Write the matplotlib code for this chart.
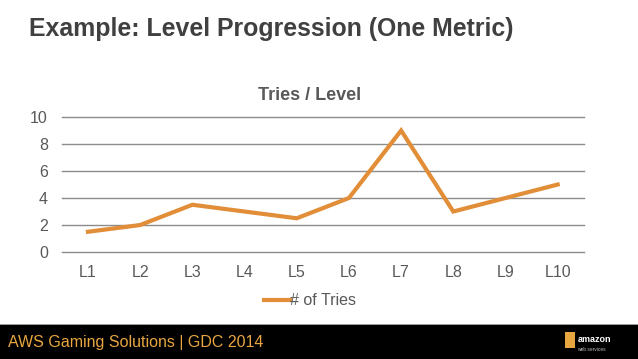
import matplotlib.pyplot as plt
from matplotlib.patches import Rectangle

plt.rcParams['font.family'] = ['Liberation Sans', 'DejaVu Sans']

# chart data
levels = ['L1', 'L2', 'L3', 'L4', 'L5', 'L6', 'L7', 'L8', 'L9', 'L10']
tries = [1.5, 2, 3.5, 3, 2.5, 4, 9, 3, 4, 5]
yticks = [0, 2, 4, 6, 8, 10]

orange = '#E28E38'
gray = '#595959'

fig = plt.figure(figsize=(6.38, 3.59), dpi=100)
fig.patch.set_facecolor('white')

# slide title
fig.text(0.045, 0.918, 'Example: Level Progression (One Metric)', fontsize=17.9,
         fontweight='bold', color='#404040', va='center', ha='left')

# footer band
fig.patches.append(Rectangle((0, 0), 1, 0.094, transform=fig.transFigure,
                             facecolor='black', edgecolor='none'))
fig.patches.append(Rectangle((0, 0.094), 1, 0.004, transform=fig.transFigure,
                             facecolor='#9a9a9a', edgecolor='none'))
fig.text(0.012, 0.045, 'AWS Gaming Solutions | GDC 2014', fontsize=11.5,
         color='#E8A640', va='center', ha='left')
fig.text(0.905, 0.055, 'amazon', fontsize=6.5, fontweight='bold', color='white',
         va='center', ha='left')
fig.text(0.905, 0.027, 'web services', fontsize=3.5, color='#bbbbbb',
         va='center', ha='left')
fig.patches.append(Rectangle((0.886, 0.03), 0.015, 0.045, transform=fig.transFigure,
                             facecolor='#E8A640', edgecolor='none'))

# chart
ax = fig.add_axes([0.097, 0.298, 0.818, 0.376])
x = list(range(len(levels)))
ax.plot(x, tries, color=orange, linewidth=3, solid_joinstyle='miter',
        label='# of Tries')
ax.set_xlim(-0.5, len(levels) - 0.5)
ax.set_ylim(0, 10)
ax.set_yticks(yticks)
ax.set_xticks(x)
ax.set_xticklabels(levels)
ax.grid(axis='y', color='#8c8c8c', linewidth=1)
for gl in ax.get_ygridlines():
    gl.set_clip_on(False)
ax.set_axisbelow(True)
for s in ax.spines.values():
    s.set_visible(False)
ax.tick_params(length=0, labelsize=11.5, labelcolor=gray)
ax.tick_params(axis='x', pad=9)
ax.tick_params(axis='y', pad=10)
ax.set_title('Tries / Level', fontsize=13, fontweight='bold', color=gray, pad=12,
             x=0.475)

leg = ax.legend(loc='upper center', bbox_to_anchor=(0.475, -0.2), frameon=False,
                fontsize=11.5, handlelength=1.6, handletextpad=0.0)
for t in leg.get_texts():
    t.set_color(gray)

fig.savefig('out.png', dpi=100)
